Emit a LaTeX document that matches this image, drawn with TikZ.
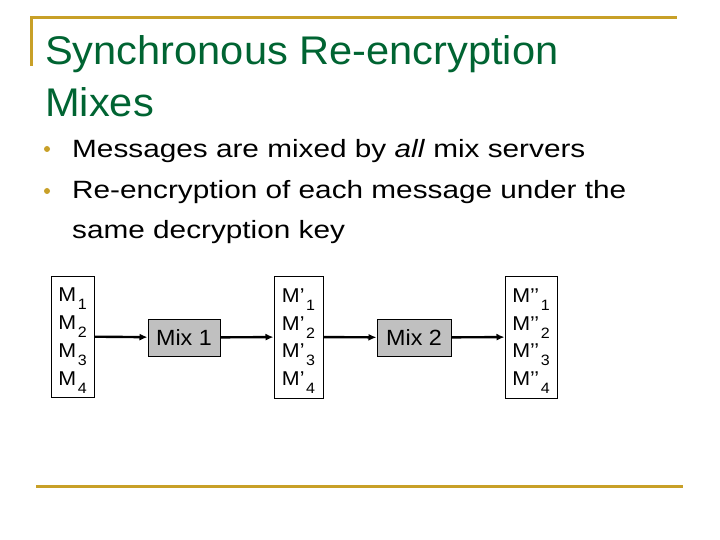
\documentclass[tikz,border=0pt]{standalone}
\usepackage{fontspec}
\setmainfont{Liberation Sans}
\usetikzlibrary{arrows.meta}
\definecolor{gold}{RGB}{200,160,40}
\definecolor{tgreen}{RGB}{0,100,50}
\definecolor{mixgray}{RGB}{192,192,192}
\newcommand{\msub}[2]{#1\hspace{1.5pt}\raisebox{-8pt}{\fontsize{15}{15}\selectfont #2}}
\newcommand{\mlist}[1]{\raisebox{-1.5pt}[\height][\depth]{\scalebox{1.07}[1]{\begin{tabular}{@{}l@{}}\msub{M#1}{1}\\\msub{M#1}{2}\\\msub{M#1}{3}\\\msub{M#1}{4}\end{tabular}}}}
\begin{document}
\begin{tikzpicture}[x=1pt,y=-1pt,
  rule/.style={gold, line width=3pt},
  titletext/.style={anchor=base west, inner sep=0pt, text=tgreen, font=\fontsize{40}{48}\selectfont},
  bullettext/.style={anchor=base west, inner sep=0pt, font=\fontsize{25}{30}\selectfont},
  bulletdot/.style={circle, fill=gold, minimum size=6pt, inner sep=0pt},
  listbox/.style={draw, line width=1pt, inner sep=0pt, align=left, font=\fontsize{20}{27.8}\selectfont},
  mixbox/.style={draw, fill=mixgray, line width=1pt, inner sep=0pt, minimum height=37pt, font=\fontsize{22}{26}\selectfont},
  flow/.style={line width=2.4pt, -{Latex[length=8pt,width=7pt]}}]
\useasboundingbox (0,0) rectangle (720,540);
% decorative rules
\draw[rule] (30,18) -- (677,18);
\draw[rule] (31,17) -- (31,66);
\draw[rule] (36,486) -- (683,486);
% title
\node[titletext] (t1) at (45,65) {\scalebox{1.04}[1]{Synchronous Re-encryption}};
\node[titletext] (t2) at (45,117) {\scalebox{1.04}[1]{Mixes}};
% bullets
\node[bulletdot] (d1) at (47,149) {};
\node[bulletdot] (d2) at (47,191) {};
\node[bullettext] (b1) at (72,158) {\scalebox{1.19}[1]{Messages are mixed by \textit{all} mix servers}};
\node[bullettext] (b2) at (72,199) {\scalebox{1.19}[1]{Re-encryption of each message under the}};
\node[bullettext] (b3) at (72,239) {\scalebox{1.19}[1]{same decryption key}};
% diagram
\node[listbox, minimum width=43pt, minimum height=121pt] (l1) at (72.5,336.5) {\mlist{}};
\node[mixbox, minimum width=72pt] (m1) at (184,337.5) {\scalebox{1.06}[1]{Mix 1}};
\node[listbox, minimum width=49pt, minimum height=122pt] (l2) at (298.5,337) {\mlist{’}};
\node[mixbox, minimum width=74pt] (m2) at (414,337.5) {\scalebox{1.06}[1]{Mix 2}};
\node[listbox, minimum width=52pt, minimum height=122pt] (l3) at (531,337) {\mlist{’’}};
\draw[flow] (l1) -- (m1);
\draw[flow] (m1) -- (l2);
\draw[flow] (l2) -- (m2);
\draw[flow] (m2) -- (l3);
\end{tikzpicture}
\end{document}
